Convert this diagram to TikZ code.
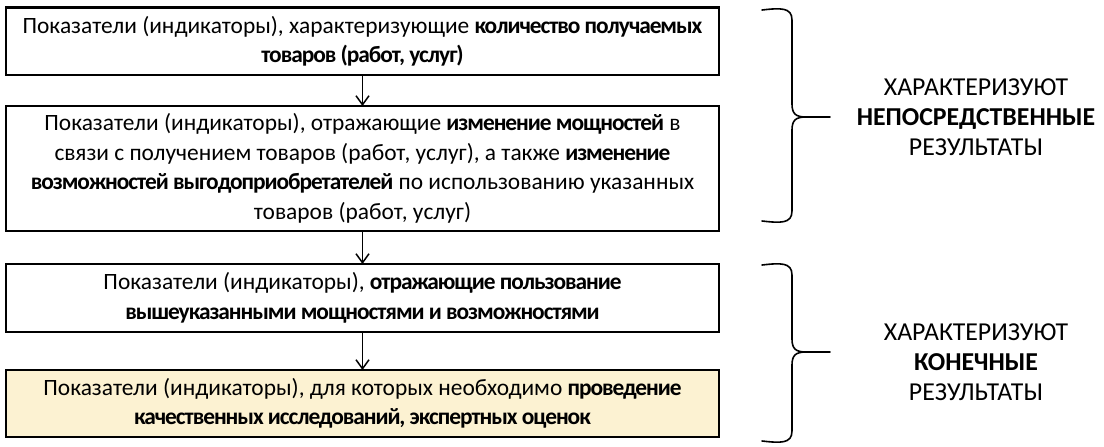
\documentclass[tikz,border=0pt]{standalone}
\usepackage{fontspec}
\setmainfont{Carlito}
\usetikzlibrary{positioning,arrows.meta}

\definecolor{paleyellow}{RGB}{252,242,210}
\newcommand{\keyw}[1]{{\bfseries\addfontfeature{LetterSpace=-4.5}#1}}

\begin{document}
\begin{tikzpicture}[
    x=1pt, y=-1pt,
    every node/.style={font=\fontsize{23.4}{29.5}\selectfont, align=center},
    box/.style={rectangle, draw, line width=2.2pt, outer sep=0pt, inner sep=0pt, minimum width=713pt},
    result/.style={font=\fontsize{25.8}{29.8}\selectfont},
    arr/.style={-{Straight Barb[length=9pt,width=13pt]}, line width=1.5pt},
    brace/.style={line width=1.6pt, line join=round, line cap=round}
]
\useasboundingbox (0,0) rectangle (1104,447);

% Indicators of goods received
\node[box, minimum height=67.5pt, anchor=north west] (qty) at (6,7.5)
    {Показатели (индикаторы), характеризующие \keyw{количество получаемых}\\ \keyw{товаров (работ, услуг)}};

% Capacities and possibilities
\node[box, minimum height=125pt, below=31pt of qty] (change)
    {Показатели (индикаторы), отражающие \keyw{изменение мощностей} в\\
     связи с получением товаров (работ, услуг), а также \keyw{изменение}\\
     \keyw{возможностей выгодоприобретателей} по использованию указанных\\
     товаров (работ, услуг)};

% Use of capacities
\node[box, minimum height=68pt, below=33pt of change] (use)
    {Показатели (индикаторы), \keyw{отражающие пользование}\\
     \keyw{вышеуказанными мощностями и возможностями}};

% Expert assessments
\node[box, minimum height=67pt, below=38pt of use, fill=paleyellow] (expert)
    {Показатели (индикаторы), для которых необходимо \keyw{проведение}\\
     \keyw{качественных исследований, экспертных оценок}};

% Arrows
\draw[arr] (qty) -- (change);
\draw[arr] (change) -- (use);
\draw[arr] (use) -- (expert);

% Braces
\foreach \t/\m/\b in {8/117/223, 263/352/443}
  \draw[brace] (762,\t+2) .. controls (780,\t) and (792,\t-1) .. (792,\t+12)
    -- (792,\m-13) .. controls (792,\m-3) and (796,\m) .. (806,\m) -- (830,\m)
    (806,\m) .. controls (796,\m) and (792,\m+3) .. (792,\m+13)
    -- (792,\b-12) .. controls (792,\b+1) and (780,\b) .. (762,\b-2);

% Results
\node[result] (direct) at (976,117) {ХАРАКТЕРИЗУЮТ\\ \textbf{НЕПОСРЕДСТВЕННЫЕ}\\ РЕЗУЛЬТАТЫ};
\node[result] (final) at (976,362) {ХАРАКТЕРИЗУЮТ\\ \textbf{КОНЕЧНЫЕ}\\ РЕЗУЛЬТАТЫ};

\end{tikzpicture}
\end{document}
